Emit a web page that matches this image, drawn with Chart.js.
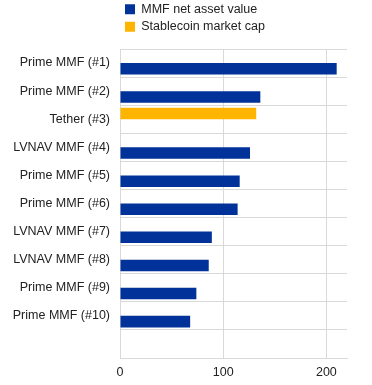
<!DOCTYPE html>
<html>
<head>
<meta charset="utf-8">
<script src="https://cdn.jsdelivr.net/npm/chart.js@4"></script>
<style>
  html, body { margin: 0; padding: 0; background: #fff; }
  #wrap { position: relative; width: 372px; height: 385px; }
</style>
</head>
<body>
<div id="wrap"><canvas id="myChart"></canvas></div>
<script>
// categories, top to bottom (last one is the empty row under #10)
var categories = ['Prime MMF (#1)', 'Prime MMF (#2)', 'Tether (#3)', 'LVNAV MMF (#4)', 'Prime MMF (#5)',
    'Prime MMF (#6)', 'LVNAV MMF (#7)', 'LVNAV MMF (#8)', 'Prime MMF (#9)', 'Prime MMF (#10)', ''];
var mmfValues = [210, 136, null, 126, 116, 114, 89, 86, 74, 68, null];
var stablecoinValues = [null, null, 132, null, null, null, null, null, null, null, null];
var xTicks = [0, 100, 200];
var xMax = 220;

// leave a gap under the legend like the original
var legendGap = {
    id: 'legendGap',
    beforeInit: function (chart) {
        var fit = chart.legend.fit;
        chart.legend.fit = function () {
            fit.call(chart.legend);
            this.height += 6;
        };
    }
};

var ctx = document.getElementById('myChart').getContext('2d');
var myChart = new Chart(ctx, {
    type: 'bar',
    data: {
        labels: categories,
        datasets: [{
            label: 'Stablecoin market cap',
            data: stablecoinValues,
            backgroundColor: '#ffb400',
        }, {
            label: 'MMF net asset value',
            data: mmfValues,
            backgroundColor: '#003299',
        }],
    },
    plugins: [legendGap],
    options: {
        indexAxis: 'y',
        responsive: true,
        maintainAspectRatio: false,
        animation: false,
        categoryPercentage: 0.82,
        barPercentage: 1.0,
        layout: {
            padding: { left: 0, right: 25, top: -2, bottom: 4 }
        },
        plugins: {
            legend: {
                position: 'top',
                align: 'start',
                fullSize: false,
                reverse: true,
                labels: {
                    boxWidth: 10,
                    boxHeight: 10,
                    padding: 5,
                    color: '#222',
                    font: { family: 'Liberation Sans, Arial', size: 12.5 }
                }
            },
            tooltip: { enabled: false }
        },
        scales: {
            x: {
                min: 0,
                max: xMax,
                afterBuildTicks: function (axis) {
                    axis.ticks = xTicks.map(function (v) { return { value: v }; });
                },
                afterFit: function (scale) { scale.height = 23; },
                grid: { color: '#d9d9d9', drawTicks: false },
                border: { color: '#d9d9d9' },
                ticks: {
                    padding: 7,
                    color: '#222',
                    font: { family: 'Liberation Sans, Arial', size: 12.5 }
                }
            },
            y: {
                grid: { color: '#d9d9d9', drawTicks: false, offset: true },
                border: { color: '#d9d9d9' },
                afterFit: function (scale) { scale.width = 120; },
                ticks: {
                    padding: 10,
                    color: '#222',
                    font: { family: 'Liberation Sans, Arial', size: 12.5 }
                }
            }
        }
    }
});
</script>
</body>
</html>
